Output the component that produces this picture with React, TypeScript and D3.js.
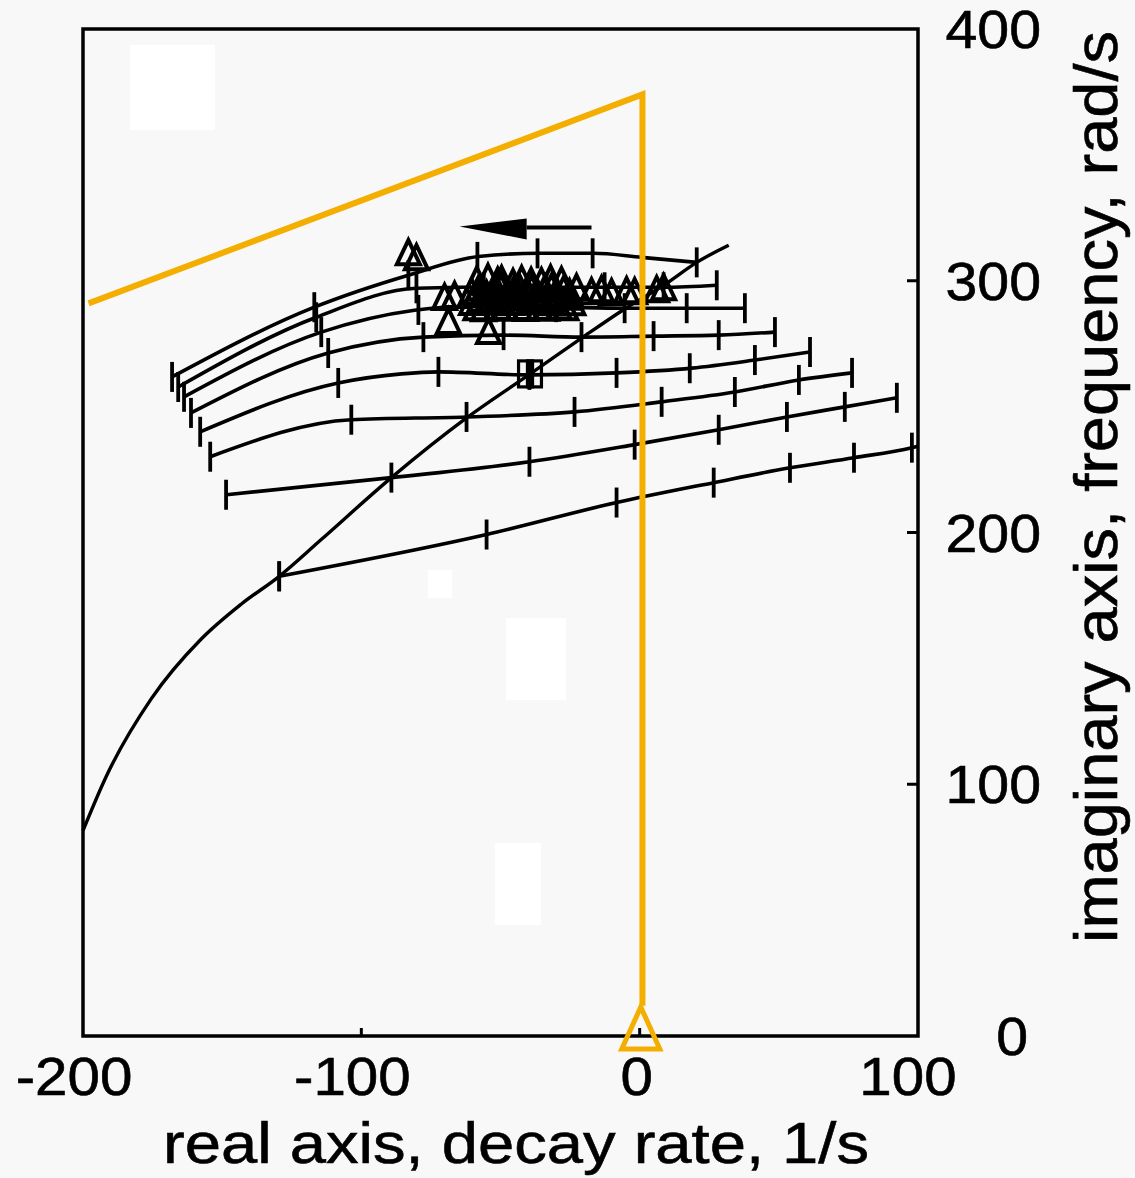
import React from 'react';
import * as d3 from 'd3';

type P = [number, number];

const xTickValues = [-200, -100, 0, 100];
const yTickValues = [0, 100, 200, 300, 400];
const xLabel = 'real axis, decay rate, 1/s';
const yLabel = 'imaginary axis, frequency, rad/s';

// root locus (diagonal)
const locus: P[] = [
  [-200, 81.6], [-191.7, 103.0], [-175.5, 133.9], [-157.6, 157.6], [-143.2, 171.5],
  [-129.5, 182.6], [-114.4, 197.2], [-89.2, 221.8], [-62.2, 245.5], [-38.8, 263.4],
  [-20.9, 277.2], [-6.1, 288.3], [9.7, 299.0], [20.5, 307.3], [32.0, 314.1],
];
const locusTicks = [-129.5];

// branches
const branch1: P[] = [[-168, 261.8], [-116.9, 289.5], [-83.1, 302.2], [-57.9, 309.6], [-36.3, 310.9], [-16.5, 310.9], [0.7, 309.3], [20.5, 307.3]];
const branch2: P[] = [[-165.8, 257.8], [-116.2, 285.5], [-80.2, 297.0], [-49.6, 297.6], [-28.1, 297.4], [8.6, 297.4], [27.7, 298.2]];
const branch3: P[] = [[-163.7, 253.9], [-114.4, 279.6], [-80.9, 288.3], [-60.4, 289.9], [-28.1, 289.5], [-5.4, 289.1], [16.9, 289.1], [37.8, 289.1]];
const branch4: P[] = [[-161.2, 247.5], [-111.9, 271.3], [-77.7, 277.6], [-48.9, 278.4], [-20.9, 277.6], [5.0, 278.0], [28.4, 278.4], [48.6, 279.6]];
const branch5: P[] = [[-157.9, 240.0], [-108.3, 259.4], [-85.6, 263.0], [-72.3, 263.8], [-39.6, 262.6], [-8.3, 263.4], [18.7, 265.3], [41.4, 268.5], [61.2, 271.7]];
const branch6: P[] = [[-154.3, 230.1], [-103.6, 244.8], [-62.2, 245.9], [-23.4, 247.9], [7.9, 251.9], [34.2, 255.8], [57.2, 260.6], [76.3, 263.4]];
const branch7: P[] = [[-148.6, 215.0], [-89.2, 221.8], [-39.6, 228.1], [-1.8, 234.9], [28.4, 240.8], [52.9, 245.9], [73.7, 249.9], [92.4, 253.5]];
const branch8: P[] = [[-129.5, 182.6], [-55.0, 199.2], [-8.3, 211.9], [26.6, 219.8], [54.0, 225.7], [77.0, 229.7], [97.8, 233.7], [100, 234.3]];

const ticks1 = [-168, -116.9, -83.1, -58.3, -36.7, -16.9, 20.5];
const ticks2 = [-165.8, -116.2, -80.2, -56.0, -33.5, -12.6, 8.6, 27.7];
const ticks3 = [-163.7, -114.4, -79.5, -55.0, -30.0, -5.4, 16.9, 37.8];
const ticks4 = [-161.2, -111.9, -77.7, -48.9, -20.9, 5.0, 28.4, 48.6];
const ticks5 = [-157.9, -108.3, -72.3, -39.6, -8.3, 18.0, 41.4, 61.2];
const ticks6 = [-154.3, -103.6, -62.2, -23.4, 7.9, 34.2, 57.2, 76.3];
const ticks7 = [-148.6, -89.2, -39.6, -1.8, 28.4, 52.9, 73.7, 92.4];
const ticks8 = [-129.5, -55.0, -8.3, 26.6, 54.0, 77.0, 97.8];

const branches = [branch1, branch2, branch3, branch4, branch5, branch6, branch7, branch8];
const branchTicks = [ticks1, ticks2, ticks3, ticks4, ticks5, ticks6, ticks7, ticks8];

// open triangle markers
const triangles: P[] = [
  [-83.1, 310.9], [-80.2, 308.9], [-70.1, 293.1], [-66.5, 293.9], [-68.7, 283.6], [-54.3, 279.6],
  [-60.4, 295.4], [-57.6, 297.0], [-55.0, 294.3], [-52.5, 296.2], [-49.6, 297.4], [-47.8, 293.9],
  [-45.3, 295.8], [-43.2, 297.0], [-40.6, 294.7], [-38.8, 296.6], [-36.3, 293.9], [-34.2, 296.2],
  [-31.7, 297.0], [-29.5, 294.3], [-27.3, 296.2], [-25.2, 295.0], [-22.7, 297.0],
  [-60.4, 291.1], [-53.2, 291.5], [-46.0, 291.1], [-38.8, 291.5], [-31.7, 291.1],
  [-58.8, 289.0], [-56.1, 288.6], [-50.8, 289.2], [-48.3, 288.8], [-43.5, 289.1], [-41.0, 288.7],
  [-36.0, 289.2], [-33.4, 288.8], [-29.0, 289.3], [-26.5, 289.0], [-24.0, 291.0],
  [-58.5, 300.0], [-54.5, 301.0], [-51.0, 299.6], [-45.5, 299.0], [-39.0, 299.5], [-32.0, 300.5],
  [-49.6, 300.2], [-42.4, 300.2], [-35.3, 299.4], [-28.1, 299.8],
  [-57.0, 292.5], [-50.0, 293.0], [-44.0, 292.8], [-37.5, 293.0], [-30.5, 292.6], [-25.5, 293.2],
  [-17.3, 295.4], [-13.7, 296.2], [-10.1, 295.0], [-4.7, 295.8], [-1.8, 295.4], [6.1, 296.2], [8.6, 297.0],
];
const squares: P[] = [[-41.0, 263.0], [-37.8, 263.0]];

// orange overlay
const orangePath: P[] = [[-198, 291], [1, 374], [1, 12]];
const orangeMarker: P = [0.4, 1.2];

// arrow
const arrowTail: P = [-17.3, 321.2];
const arrowTip: P = [-64.7, 321.5];
const arrowBaseX = -40.6;

const ORANGE = '#F4AE00';
const INK = '#000000';
const FONT = '"Liberation Sans", Arial, Helvetica, sans-serif';

function interpY(pts: P[], x: number): number {
  for (let i = 0; i < pts.length - 1; i++) {
    const [x0, y0] = pts[i];
    const [x1, y1] = pts[i + 1];
    if (x >= x0 && x <= x1) {
      const t = x1 === x0 ? 0 : (x - x0) / (x1 - x0);
      return y0 + t * (y1 - y0);
    }
  }
  return x < pts[0][0] ? pts[0][1] : pts[pts.length - 1][1];
}

function textLen(s: string, fs: number, stretch: number) {
  let w = 0;
  for (const c of s) w += c === '-' ? 0.333 : 0.556;
  return w * fs * stretch;
}

export default function App() {
  const x = d3.scaleLinear().domain([-200, 100]).range([83, 918]);
  const y = d3.scaleLinear().domain([0, 400]).range([1036, 29]);
  const line = d3.line<P>().x(d => x(d[0])).y(d => y(d[1])).curve(d3.curveMonotoneX);
  const straight = d3.line<P>().x(d => x(d[0])).y(d => y(d[1]));
  const tickHalf = 15;

  const tri = (d: P, s: number) => {
    const cx = x(d[0]), cy = y(d[1]);
    return `M${cx},${cy - s * 1.15}L${cx + s},${cy + s * 0.95}L${cx - s},${cy + s * 0.95}Z`;
  };

  const tx = x(orangeMarker[0]);
  const ty = y(orangeMarker[1]);

  return (
    <svg width={1135} height={1178} style={{ position: 'absolute', left: 0, top: 0, background: '#f8f8f8' }}>
      <rect x={0} y={0} width={1135} height={1178} fill="#f8f8f8" />
      <rect x={130} y={45} width={85} height={85} fill="#ffffff" />
      <rect x={506} y={618} width={60} height={82} fill="#ffffff" />
      <rect x={495} y={843} width={46} height={82} fill="#ffffff" />
      <rect x={428} y={570} width={24} height={28} fill="#ffffff" />

      {/* frame */}
      <rect x={x(-200)} y={y(400)} width={x(100) - x(-200)} height={y(0) - y(400)} fill="none" stroke={INK} strokeWidth={3.5} />
      {[-100, 0].map(v => (
        <line key={'bx' + v} x1={x(v)} x2={x(v)} y1={y(0)} y2={y(0) - 8} stroke={INK} strokeWidth={3} />
      ))}
      {[100, 200, 300].map(v => (
        <line key={'ry' + v} x1={x(100)} x2={x(100) - 11} y1={y(v)} y2={y(v)} stroke={INK} strokeWidth={3} />
      ))}

      {/* locus */}
      <path d={line(locus) || ''} fill="none" stroke={INK} strokeWidth={3.4} />
      {locusTicks.map((v, i) => (
        <line key={'lt' + i} x1={x(v)} x2={x(v)} y1={y(interpY(locus, v)) - tickHalf} y2={y(interpY(locus, v)) + tickHalf} stroke={INK} strokeWidth={3.6} />
      ))}

      {/* branches */}
      {branches.map((b, i) => (
        <g key={'b' + i}>
          <path d={line(b) || ''} fill="none" stroke={INK} strokeWidth={3.6} />
          {branchTicks[i].map((v, j) => {
            const yy = y(interpY(b, v));
            return <line key={j} x1={x(v)} x2={x(v)} y1={yy - tickHalf} y2={yy + tickHalf} stroke={INK} strokeWidth={3.8} />;
          })}
        </g>
      ))}

      {/* triangles */}
      {triangles.map((d, i) => (
        <path key={'t' + i} d={tri(d, 11.5)} fill="none" stroke={INK} strokeWidth={4} strokeLinejoin="miter" />
      ))}
      {squares.map((d, i) => (
        <rect key={'s' + i} x={x(d[0]) - 7} y={y(d[1]) - 13} width={14} height={26} fill="none" stroke={INK} strokeWidth={3.2} />
      ))}

      {/* arrow */}
      <line x1={x(arrowTail[0])} x2={x(arrowBaseX)} y1={y(arrowTail[1])} y2={y(arrowTail[1])} stroke={INK} strokeWidth={4} />
      <path
        d={`M${x(arrowTip[0])},${y(arrowTip[1])}L${x(arrowBaseX)},${y(arrowTail[1]) - 9}L${x(arrowBaseX)},${y(arrowTail[1]) + 12}Z`}
        fill={INK}
      />

      {/* orange overlay */}
      <path d={straight(orangePath) || ''} fill="none" stroke={ORANGE} strokeWidth={6} strokeLinejoin="miter" />
      <path d={`M${tx},${ty - 26}L${tx + 19},${ty + 16}L${tx - 19},${ty + 16}Z`} fill="none" stroke={ORANGE} strokeWidth={5} />

      {/* x tick labels */}
      {xTickValues.map(v => {
        const s = String(v);
        return (
          <text key={'xl' + v} x={x(v) - (v < 0 ? 9 : v === 0 ? 3 : 10)} y={1095} fontFamily={FONT} fontSize={54} textAnchor="middle"
            textLength={textLen(s, 54, 1.08)} lengthAdjust="spacingAndGlyphs" fill={INK} stroke={INK} strokeWidth={0.6}>{s}</text>
        );
      })}
      {/* y tick labels */}
      {yTickValues.map(v => {
        const s = String(v);
        return (
          <text key={'yl' + v} x={v === 0 ? 1028 : 1041} y={y(v) + 19} fontFamily={FONT} fontSize={53} textAnchor="end"
            textLength={textLen(s, 53, 1.08)} lengthAdjust="spacingAndGlyphs" fill={INK} stroke={INK} strokeWidth={0.6}>{s}</text>
        );
      })}

      {/* axis labels */}
      <text x={163} y={1163} fontFamily={FONT} fontSize={58} textLength={706} lengthAdjust="spacingAndGlyphs" fill={INK} stroke={INK} strokeWidth={0.6}>{xLabel}</text>
      <text transform={`translate(1117,487) rotate(-90)`} x={0} y={0} fontFamily={FONT} fontSize={62} textAnchor="middle"
        textLength={912} lengthAdjust="spacingAndGlyphs" fill={INK} stroke={INK} strokeWidth={0.6}>{yLabel}</text>
    </svg>
  );
}
